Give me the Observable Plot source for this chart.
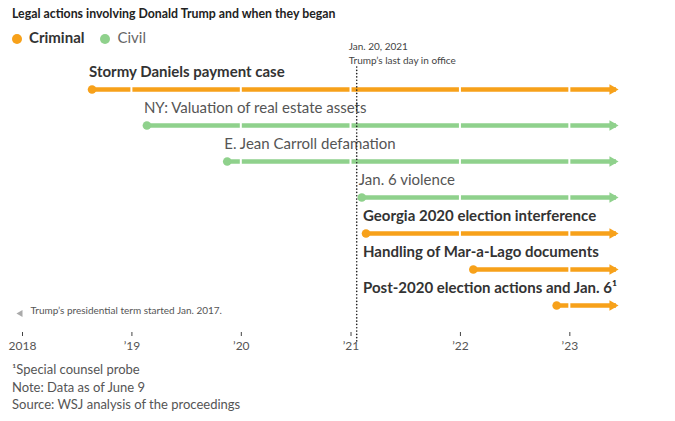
<!DOCTYPE html>
<html>
<head>
<meta charset="utf-8">
<script src="https://cdn.jsdelivr.net/npm/d3@7"></script>
<script src="https://cdn.jsdelivr.net/npm/@observablehq/plot@0.6"></script>
<style>
  body { margin: 0; background: #fff; }
  #wrap { position: relative; width: 675px; height: 421px; overflow: hidden; font-family: Lato, "Noto Sans", sans-serif; }
  #title { position: absolute; left: 12px; top: 4px; font-size: 14px; font-weight: 700; color: #222; line-height: 18px; white-space: nowrap; transform: scaleX(0.88); transform-origin: left center; }
  #legend { position: absolute; left: 12px; top: 28px; font-size: 15px; line-height: 18px; white-space: nowrap; }
  #legend span.sw { display: inline-block; width: 10px; height: 10px; border-radius: 50%; vertical-align: -1px; margin-right: 7px; }
  #chart { position: absolute; left: 0; top: 30px; }
  #footer { position: absolute; left: 12px; top: 361px; font-size: 13px; line-height: 17.5px; color: #555; white-space: nowrap; }
</style>
</head>
<body>
<div id="wrap">
  <div id="title"></div>
  <div id="legend"></div>
  <div id="chart"></div>
  <div id="footer"></div>
</div>
<script>
// ---- data ----
const cases = [
  "Stormy Daniels payment case",
  "NY: Valuation of real estate assets",
  "E. Jean Carroll defamation",
  "Jan. 6 violence",
  "Georgia 2020 election interference",
  "Handling of Mar-a-Lago documents",
  "Post-2020 election actions and Jan. 6\u00B9"
];
const caseTypes = ["Criminal", "Civil", "Civil", "Civil", "Criminal", "Criminal", "Criminal"];
const startDates = ["2018-08-21", "2019-02-20", "2019-11-15", "2021-02-06", "2021-02-20", "2022-02-13", "2022-11-18"];
const dataAsOf = "2023-06-09";
const lastDayDate = "2021-01-20";
const tickYears = ["2018-01-01", "2019-01-01", "2020-01-01", "2021-01-01", "2022-01-01", "2023-01-01"];
const tickLabels = ["2018", "\u201919", "\u201920", "\u201921", "\u201922", "\u201923"];
const legendKeys = ["Criminal", "Civil"];
const colors = {Criminal: "#f7a11a", Civil: "#8fd18c"};
const titleText = "Legal actions involving Donald Trump and when they began";
const footerLines = ["\u00B9Special counsel probe", "Note: Data as of June 9", "Source: WSJ analysis of the proceedings"];
const ruleNote = "Jan. 20, 2021\nTrump\u2019s last day in office";
const termNote = "Trump\u2019s presidential term started Jan. 2017.";

// ---- derived tables ----
const parse = s => new Date(s + "T00:00:00Z");
const endDate = parse(dataAsOf);
const rows = cases.map((name, i) => ({name, type: caseTypes[i], start: parse(startDates[i]), end: endDate}));
const alignDate = rows[4].start; // later-starting cases share the label column of the first post-term case
rows.forEach(r => { r.labelX = r.start < alignDate ? r.start : alignDate; });
const years = tickYears.map(parse);
const segments = [];
rows.forEach(r => {
  const cuts = [r.start, ...years.filter(y => y > r.start && y < r.end), r.end];
  for (let k = 0; k < cuts.length - 1; k++) segments.push({name: r.name, type: r.type, x1: cuts[k], x2: cuts[k + 1]});
});

// ---- html text ----
document.getElementById("title").textContent = titleText;
document.getElementById("legend").innerHTML = legendKeys.map((k, i) =>
  `<span style="margin-right:${i === 0 ? 16 : 0}px"><span class="sw" style="background:${colors[k]}"></span><span style="color:${k === "Criminal" ? "#333" : "#666"};font-weight:${k === "Criminal" ? 700 : 400}">${k}</span></span>`
).join("");
document.getElementById("footer").innerHTML = footerLines.map(l => `<div>${l}</div>`).join("");

const small = "Lato, sans-serif";

const chart = Plot.plot({
  width: 675,
  height: 330,
  marginLeft: 22,
  marginRight: 58,
  marginTop: 37,
  marginBottom: 28,
  style: {fontFamily: "Lato, sans-serif", overflow: "visible", background: "transparent"},
  x: {type: "utc", domain: [parse("2018-01-01"), endDate]},
  y: {type: "point", domain: cases, range: [58, 276], padding: 0, axis: null},
  marks: [
    Plot.axisX({
      ticks: years,
      tickFormat: (d, i) => tickLabels[i],
      tickSize: 4,
      tickPadding: 5,
      stroke: "#444",
      fill: "#555",
      fontSize: 12,
      fontFamily: small
    }),
    Plot.ruleY(segments, {x1: "x1", x2: "x2", y: "name", stroke: d => colors[d.type], strokeWidth: 4.5, insetLeft: 1, insetRight: 1}),
    Plot.dot(rows, {x: "start", y: "name", r: 4.3, fill: d => colors[d.type]}),
    Plot.dot(rows, {x: "end", y: "name", symbol: "triangle", rotate: 90, r: 3.9, dx: -5, fill: d => colors[d.type]}),
    Plot.text(rows.filter(d => d.type === "Criminal"), {x: "labelX", y: "name", text: "name", textAnchor: "start", dx: -3, dy: -17, fontSize: 15, fontWeight: 700, fill: "#333"}),
    Plot.text(rows.filter(d => d.type === "Civil"), {x: "labelX", y: "name", text: "name", textAnchor: "start", dx: -3, dy: -17, fontSize: 15, fontWeight: 400, fill: "#555"}),
    Plot.ruleX([parse(lastDayDate)], {stroke: "#222", strokeWidth: 1.6, strokeDasharray: "0.1,3.2", strokeLinecap: "round", insetBottom: -10}),
    Plot.text([parse(lastDayDate)], {x: d => d, frameAnchor: "top", text: [ruleNote], textAnchor: "start", lineAnchor: "top", dx: -8, dy: -27, lineHeight: 1.4, fontSize: 10, fontFamily: small, fill: "#444"}),
    Plot.text([termNote], {frameAnchor: "bottom-left", text: d => d, textAnchor: "start", dx: 8, dy: -19, fontSize: 10, fontFamily: small, fill: "#555"}),
    Plot.dot([termNote], {frameAnchor: "bottom-left", symbol: "triangle", rotate: -90, r: 2.6, dx: -2, dy: -19, fill: "#aaa"})
  ]
});
document.getElementById("chart").appendChild(chart);
</script>
</body>
</html>
